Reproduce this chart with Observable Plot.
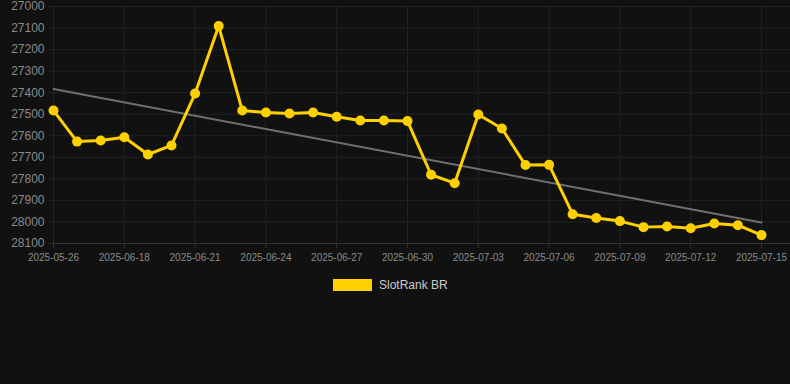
<!DOCTYPE html>
<html>
<head>
<meta charset="utf-8">
<script src="https://cdn.jsdelivr.net/npm/d3@7"></script>
<script src="https://cdn.jsdelivr.net/npm/@observablehq/plot@0.6"></script>
<style>
  html, body { margin: 0; padding: 0; background: #111111; }
  body { width: 790px; height: 384px; overflow: hidden; font-family: "Liberation Sans", Arial, sans-serif; }
  #legend { display: flex; align-items: center; margin-left: 333px; margin-top: 9px; height: 12px; }
  #legend .sw { width: 39px; height: 12px; background: #FFD000; }
  #legend .lb { margin-left: 7px; font-size: 12px; color: #cccccc; }
</style>
</head>
<body>
<div id="chart"></div>
<div id="legend"><div class="sw"></div><div class="lb">SlotRank BR</div></div>
<script>
const dates = ["2025-05-26","2025-06-16","2025-06-17","2025-06-18","2025-06-19","2025-06-20","2025-06-21","2025-06-22","2025-06-23","2025-06-24","2025-06-25","2025-06-26","2025-06-27","2025-06-28","2025-06-29","2025-06-30","2025-07-01","2025-07-02","2025-07-03","2025-07-04","2025-07-05","2025-07-06","2025-07-07","2025-07-08","2025-07-09","2025-07-10","2025-07-11","2025-07-12","2025-07-13","2025-07-14","2025-07-15"];
const values = [27483, 27627, 27622, 27607, 27687, 27645, 27404, 27091, 27483, 27492, 27497, 27492, 27512, 27529, 27529, 27532, 27781, 27820, 27501, 27566, 27736, 27735, 27964, 27982, 27996, 28024, 28021, 28029, 28007, 28015, 28061];
const yTicks = [27000, 27100, 27200, 27300, 27400, 27500, 27600, 27700, 27800, 27900, 28000, 28100];
const xTickIdx = [0, 3, 6, 9, 12, 15, 18, 21, 24, 27, 30];
const seriesName = "SlotRank BR";

const data = values.map((v, i) => ({i, v, d: dates[i]}));

const chart = Plot.plot({
  width: 790,
  height: 270,
  marginLeft: 53,
  marginRight: 0,
  marginTop: 6,
  marginBottom: 27,
  style: { background: "#111111", color: "#8a8a8a", fontFamily: "'Liberation Sans', Arial, sans-serif", fontSize: "12px" },
  x: { type: "linear", domain: [0, 31.23] },
  y: { domain: [27000, 28100], reverse: true },
  marks: [
    Plot.gridY(yTicks, { stroke: "#222222", strokeOpacity: 1 }),
    Plot.gridX(xTickIdx, { stroke: "#222222", strokeOpacity: 1 }),
    Plot.ruleY([28100], { stroke: "#333333" }),
    Plot.axisY(yTicks, { tickSize: 5, tickPadding: 4, stroke: "#222222", fill: "#8a8a8a", fontSize: 12, label: null, tickFormat: d => String(d) }),
    Plot.axisX(xTickIdx, { tickSize: 5, tickPadding: 5, stroke: "#333333", fill: "#8a8a8a", fontSize: 10, label: null, tickFormat: i => dates[i] }),
    Plot.linearRegressionY(data, { x: "i", y: "v", ci: 0, stroke: "#707070", strokeWidth: 2 }),
    Plot.line(data, { x: "i", y: "v", stroke: "#FFD000", strokeWidth: 3 }),
    Plot.dot(data, { x: "i", y: "v", r: 5, fill: "#FFD000", stroke: null })
  ]
});
document.getElementById("chart").appendChild(chart);
document.querySelector("#legend .lb").textContent = seriesName;
</script>
</body>
</html>
